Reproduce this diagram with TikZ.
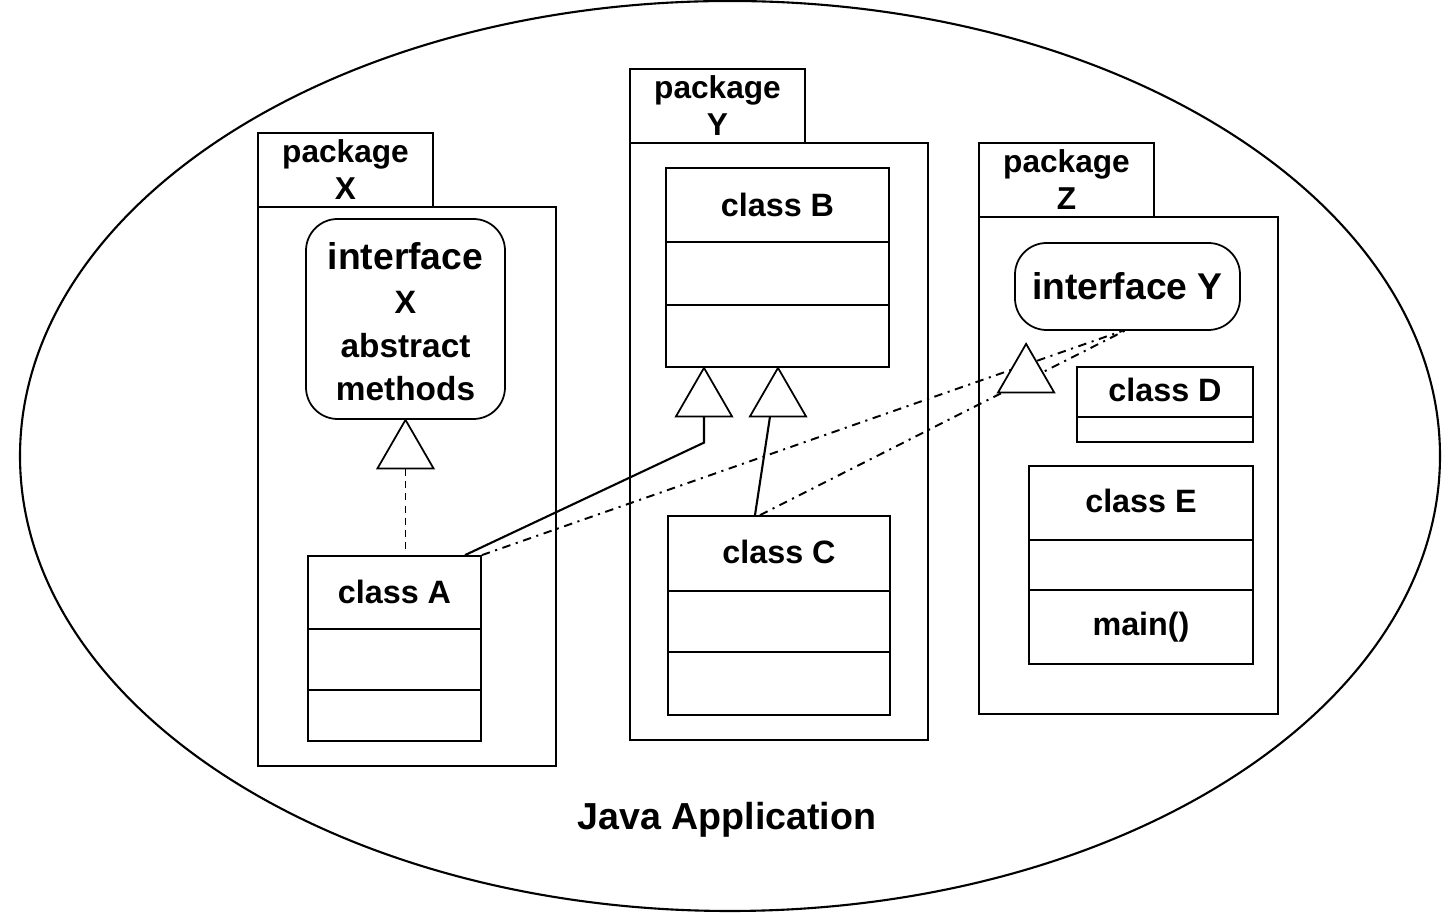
\documentclass[tikz,border=0pt]{standalone}
\usepackage{fontspec}
\setmainfont{Liberation Sans}
\usetikzlibrary{positioning,calc,shapes.geometric,backgrounds}
\tikzset{
  pkgtab/.style={draw,rectangle,minimum width=1.75cm,minimum height=0.74cm,inner sep=0pt,outer sep=0pt,align=center,line width=0.5pt,font=\fontsize{9}{10.5}\selectfont\bfseries},
  pkgbody/.style={draw,rectangle,minimum width=2.98cm,outer sep=0pt,line width=0.5pt},
  clsbox/.style={draw,rectangle,line width=0.5pt},
  ifcbox/.style={draw,rectangle,rounded corners=9pt,line width=0.5pt,align=center,inner sep=0pt,font=\fontsize{10.6}{12.4}\selectfont\bfseries},
  clsname/.style={inner sep=0pt,font=\fontsize{9.2}{11}\selectfont\bfseries},
  tri/.style={draw,regular polygon,regular polygon sides=3,minimum size=0.65cm,inner sep=0pt,outer sep=0pt,line width=0.5pt,fill=white},
  gen/.style={line width=0.6pt},
  real/.style={line width=0.55pt,dash pattern=on 2.4pt off 1.6pt on 0.6pt off 1.6pt},
  dep/.style={line width=0.5pt,dash pattern=on 2pt off 1.5pt}
}
\begin{document}
\begin{tikzpicture}
  \useasboundingbox (0,0) rectangle (14.54,-9.13);
  \node[draw,ellipse,minimum width=14.2cm,minimum height=9.1cm,line width=0.6pt] (app) at (7.3,-4.56) {};
  \node[font=\fontsize{10.7}{12}\selectfont\bfseries] (appname) at (7.27,-8.2) {Java Application};

  % package X
  \node[pkgbody,minimum height=5.59cm] (pkgX) at (4.07,-4.865) {};
  \node[pkgtab,anchor=south west] (tabX) at (pkgX.north west) {package\\X};
  \node[ifcbox,minimum width=1.99cm,minimum height=2.0cm] (ifcX) at (4.055,-3.19) {};
  \node[font=\fontsize{10.6}{12.4}\selectfont\bfseries,align=center,inner sep=0pt] (txtX) at ($(ifcX.center)+(0,-0.03)$)
    {interface\\{\fontsize{9.2}{12.4}\selectfont X}\\{\fontsize{9.5}{12.4}\selectfont abstract}\\{\fontsize{9.5}{12.4}\selectfont methods}};
  \node[tri,anchor=corner 1] (triX) at (ifcX.south) {};
  \node[clsbox,minimum width=1.73cm,minimum height=1.85cm] (clsA) at (3.945,-6.485) {};
  \node[clsname] (nmA) at ($(clsA.north)+(0,-0.37)$) {class A};

  % package Y
  \node[pkgbody,minimum height=5.97cm] (pkgY) at (7.79,-4.415) {};
  \node[pkgtab,anchor=south west] (tabY) at (pkgY.north west) {package\\Y};
  \node[clsbox,minimum width=2.23cm,minimum height=1.99cm] (clsB) at (7.775,-2.675) {};
  \node[clsname] (nmB) at ($(clsB.north)+(0,-0.38)$) {class B};
  \node[tri,anchor=corner 1] (triB1) at ($(clsB.south)+(-0.735,0)$) {};
  \node[tri,anchor=corner 1] (triB2) at ($(clsB.south)+(0.005,0)$) {};
  \node[clsbox,minimum width=2.22cm,minimum height=1.99cm] (clsC) at (7.79,-6.155) {};
  \node[clsname] (nmC) at ($(clsC.north)+(0,-0.37)$) {class C};

  % package Z
  \node[pkgbody,minimum width=2.99cm,minimum height=4.97cm] (pkgZ) at (11.285,-4.655) {};
  \node[pkgtab,anchor=south west] (tabZ) at (pkgZ.north west) {package\\Z};
  \node[ifcbox,minimum width=2.25cm,minimum height=0.87cm] (ifcY) at (11.275,-2.865) {interface Y};
  \node[tri,anchor=corner 1] (triZ) at ($(ifcY.south west)+(0.12,-0.13)$) {};
  \node[clsbox,minimum width=1.76cm,minimum height=0.75cm] (clsD) at (11.65,-4.045) {};
  \node[clsname] (nmD) at ($(clsD.north)+(0,-0.24)$) {class D};
  \node[clsbox,minimum width=2.24cm,minimum height=1.98cm] (clsE) at (11.41,-5.65) {};
  \node[clsname] (nmE) at ($(clsE.north)+(0,-0.36)$) {class E};
  \node[clsname] (mainE) at ($(clsE.north)+(0,-1.62)$) {main()};

  % compartments
  \foreach \c/\d in {clsA/0.74,clsA/1.35,clsB/0.75,clsB/1.38,clsC/0.76,clsC/1.37,clsD/0.51,clsE/0.75,clsE/1.25}
    \draw[clsbox] ($(\c.north west)+(0,-\d)$) -- ($(\c.north east)+(0,-\d)$);

  % relations
  \begin{scope}[on background layer]
    \draw[dep] (triX.side 2) -- (triX.side 2 |- clsA.north);
    \draw[gen] ($(clsA.north)+(0.705,0)$) -- ($(triB1.side 2)+(0,-0.26)$) -- (triB1.side 2);
    \draw[gen] ($(clsC.north)+(-0.24,0)$) -- ($(triB2.side 2)+(-0.08,0)$);
    \draw[real] (clsA.north east) -- ($(ifcY.south)+(-0.05,0)$);
    \draw[real] ($(clsC.north)+(-0.19,0)$) -- ($(ifcY.south)+(-0.03,0)$);
  \end{scope}
\end{tikzpicture}
\end{document}
